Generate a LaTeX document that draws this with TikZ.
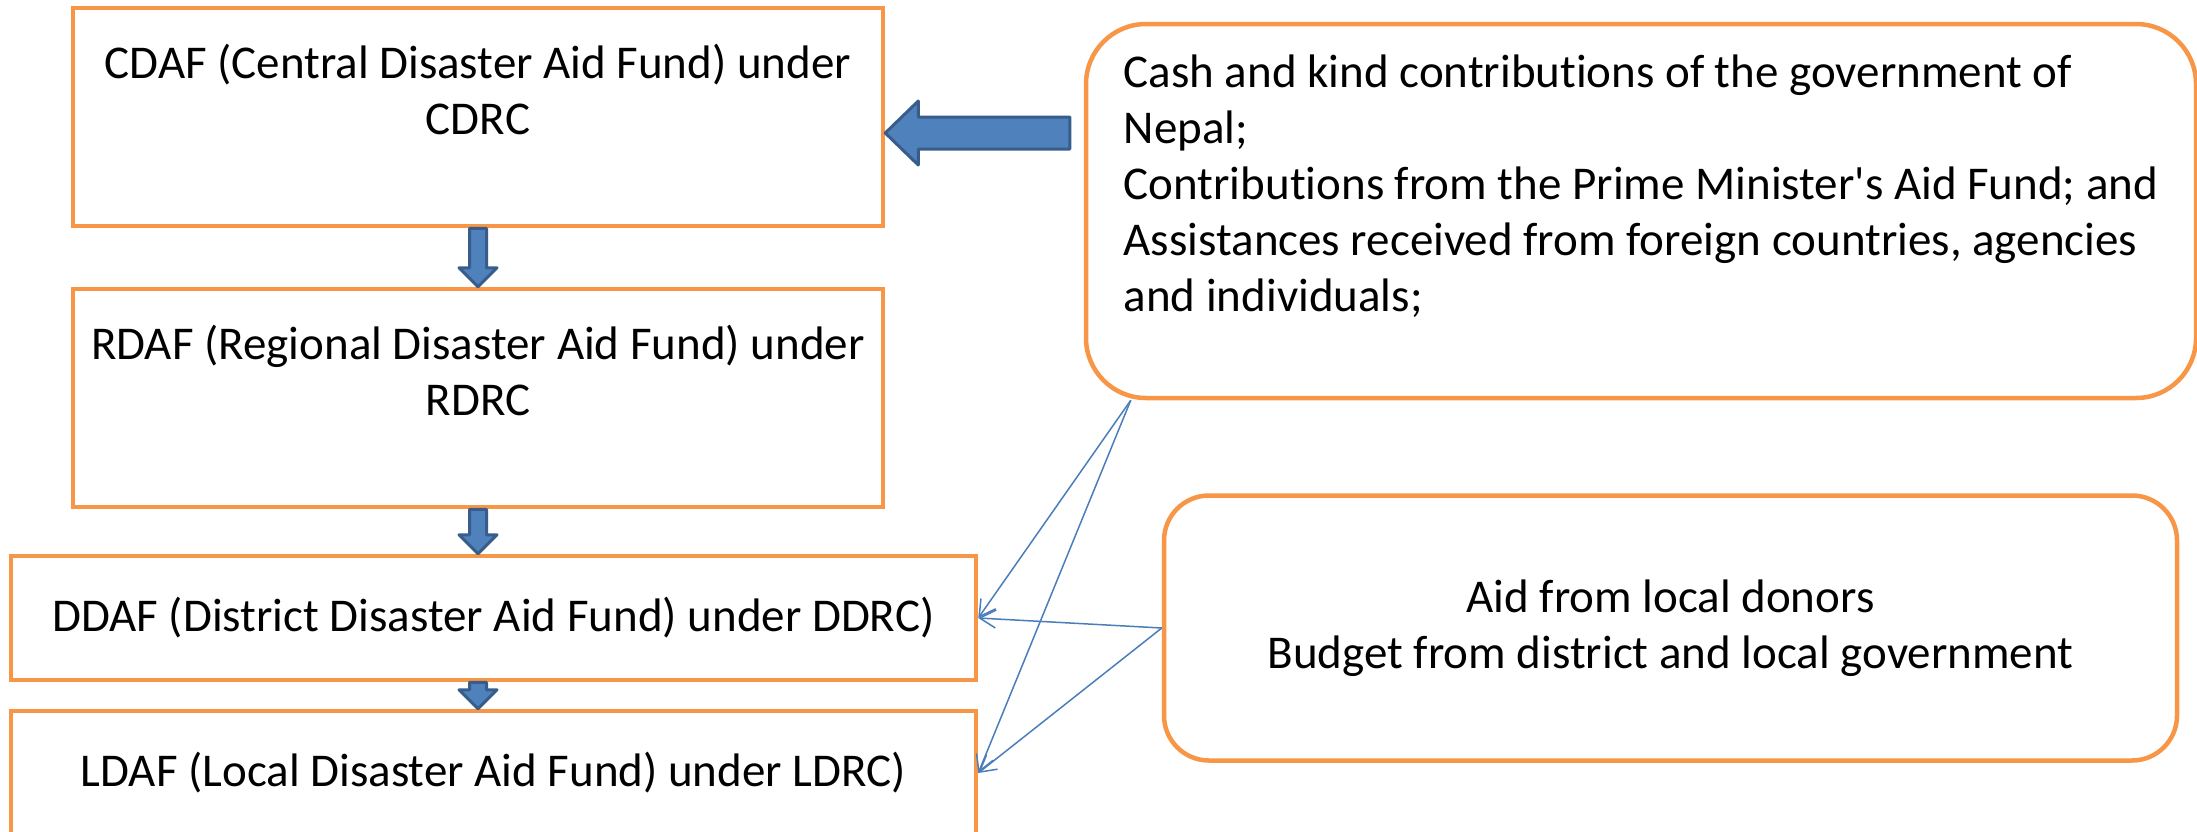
\documentclass[tikz,border=0pt]{standalone}
\usepackage{fontspec}
\setmainfont{Carlito}[Ligatures=NoCommon]
\usetikzlibrary{calc,arrows.meta}
\definecolor{boxorange}{HTML}{F79646}
\definecolor{arrowfill}{HTML}{4F81BD}
\definecolor{arrowline}{HTML}{385D8A}
\definecolor{linkblue}{HTML}{4A7EBB}
% block arrow down the fund column, x taken from cdaf
\newcommand{\downflow}[2]{%
\draw[blockarrow] ($(cdaf.south |- #1.south)+(-8.5,0)$) -- ($(cdaf.south |- #2.north)+(-8.5,-19)$) -- ++(-10.5,0) -- (cdaf.south |- #2.north) -- ++(19,-19) -- ++(-10.5,0) -- ($(cdaf.south |- #1.south)+(8.5,0)$) -- cycle;}

\begin{document}
\begin{tikzpicture}[x=1pt,y=-1pt,
  fundbox/.style={draw=boxorange, line width=4.5pt, align=center, inner sep=0pt, font=\fontsize{47}{56}\selectfont},
  sourcebox/.style={draw=boxorange, line width=4.5pt, rounded corners=60pt, inner sep=0pt, font=\fontsize{47}{56}\selectfont},
  blockarrow/.style={fill=arrowfill, draw=arrowline, line width=3pt, line join=round},
  link/.style={draw=linkblue, line width=1.5pt, -{Straight Barb[length=16pt,width=18pt]}}]
\useasboundingbox (0,0) rectangle (2197,831);

% fund levels
\node[fundbox, minimum width=810pt, minimum height=218pt] (cdaf) at (478,117) {CDAF (Central Disaster Aid Fund) under\\CDRC\\\mbox{}};
\node[fundbox, minimum width=810pt, minimum height=218pt] (rdaf) at (478,398) {RDAF (Regional Disaster Aid Fund) under\\RDRC\\\mbox{}};
\node[fundbox, minimum width=965pt, minimum height=124pt] (ddaf) at (493.5,618) {DDAF (District Disaster Aid Fund) under DDRC)};
\node[fundbox, minimum width=965pt, minimum height=124pt] (ldaf) at (493.5,773) {LDAF (Local Disaster Aid Fund) under LDRC)};

% sources
\node[sourcebox, align=left, minimum width=1110pt, minimum height=374pt] (srcgov) at (1641,211) {Cash and kind contributions of the government of\\Nepal;\\Contributions from the Prime Minister\textquotesingle s Aid Fund; and\\Assistances received from foreign countries, agencies\\and individuals;\\\mbox{}};
\node[sourcebox, align=center, rounded corners=45pt, minimum width=1013pt, minimum height=265pt] (srclocal) at (1670.5,628) {Aid from local donors\\Budget from district and local government};

\downflow{cdaf}{rdaf}
\downflow{rdaf}{ddaf}
\downflow{ddaf}{ldaf}
\draw[blockarrow] ($(cdaf.east)+(0,16)$) -- ++(33,-32) -- ++(0,16) -- ($(cdaf.east -| srcgov.west)+(-14,0)$) -- ++(0,32) -- ($(cdaf.east)+(33,32)$) -- ++(0,16) -- cycle;

\coordinate (govfoot) at ($(srcgov.south west)+(47,0)$);
\draw[link] (govfoot) -- (ddaf.east);
\draw[link] (govfoot) -- (ldaf.east);
\draw[link] (srclocal.west) -- (ddaf.east);
\draw[link] (srclocal.west) -- (ldaf.east);
\end{tikzpicture}
\end{document}
